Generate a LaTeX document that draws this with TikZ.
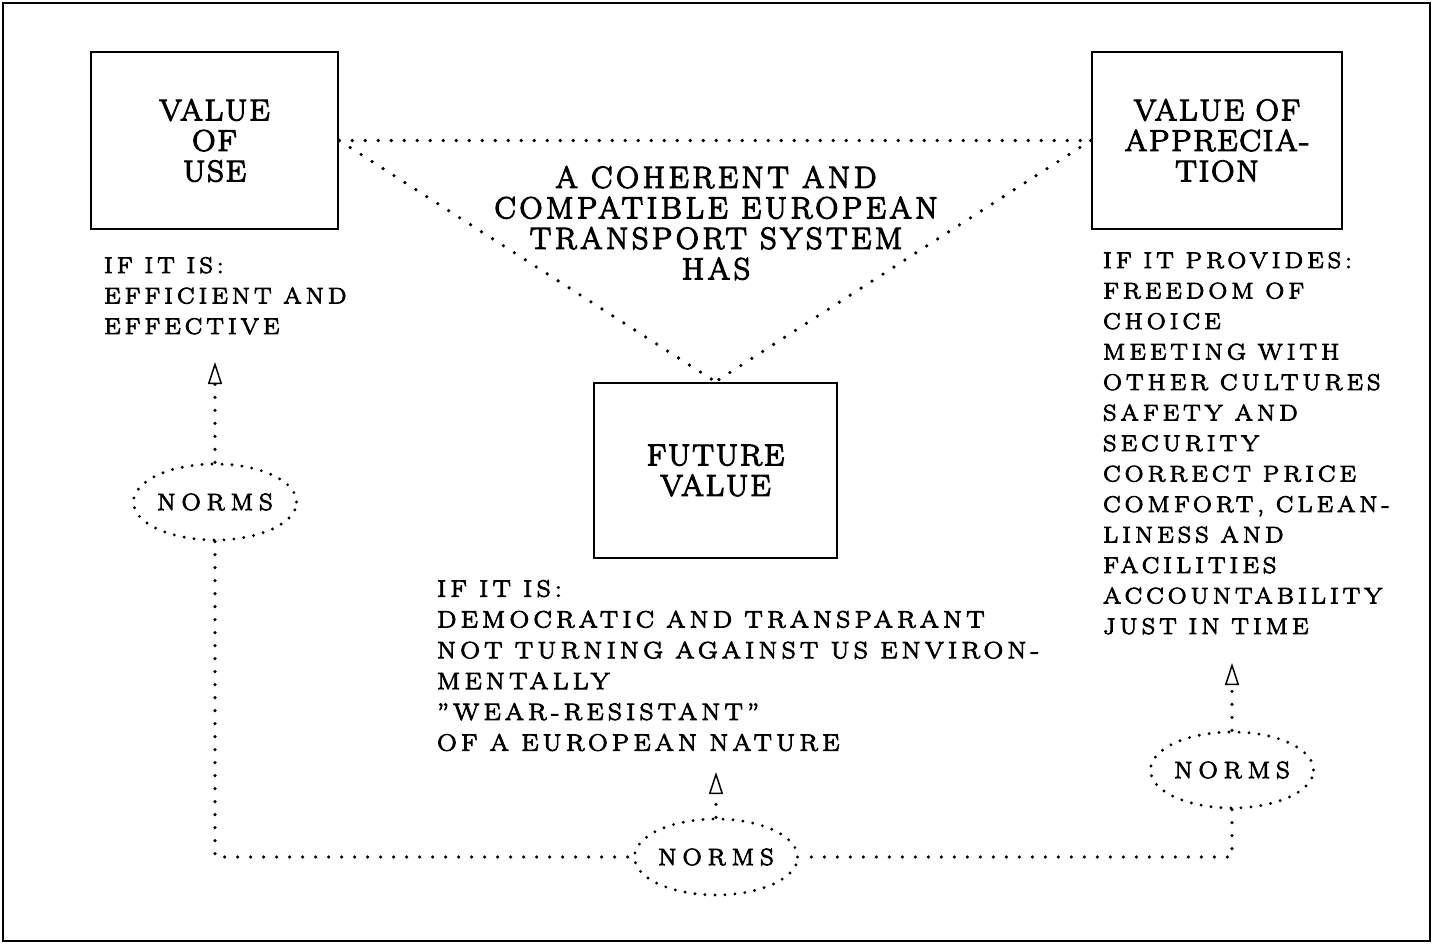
\documentclass[tikz,border=0pt]{standalone}
\usepackage{fontspec}
\usetikzlibrary{shapes.geometric,arrows.meta}
\newfontfamily\lmboxfam{Latin Modern Roman}[LetterSpace=6, FakeStretch=1.08, FakeBold=4]
\newfontfamily\lmcentfam{Latin Modern Roman}[LetterSpace=12, FakeStretch=1.05, FakeBold=4]
\newfontfamily\lmlistfam{Latin Modern Roman}[LetterSpace=19, FakeStretch=1.15, FakeBold=4]
\newfontfamily\lmnormfam{Latin Modern Roman}[LetterSpace=26, FakeStretch=1.12, FakeBold=4]
\newcommand\myboxfont{\lmboxfam\fontsize{30}{30.5}\selectfont}
\newcommand\mycentfont{\lmcentfam\fontsize{30.5}{30.5}\selectfont}
\newcommand\mylistfont{\lmlistfam\fontsize{22.5}{30.5}\selectfont}
\newcommand\mylistbigfont{\lmlistfam\fontsize{23.5}{30.8}\selectfont}
\newcommand\mynormfont{\lmnormfam\fontsize{23.5}{24}\selectfont}
\begin{document}
\begin{tikzpicture}[x=1pt,y=-1pt,
  boxnode/.style={draw, line width=2.5pt, inner sep=0pt, align=center, font=\myboxfont},
  listtext/.style={align=left, inner sep=0pt, font=\mylistfont},
  normell/.style={ellipse, draw, line width=3.2pt, dash pattern=on 0pt off 10pt, line cap=round,
     minimum width=160pt, minimum height=76pt, inner sep=0pt, font=\mynormfont},
  dotline/.style={line width=3.6pt, line cap=round, dash pattern=on 0pt off 13pt},
  upar/.style={dotline, -{Triangle[open,length=22pt,width=14pt,line width=1.5pt]}}]
\useasboundingbox (0,0) rectangle (1434,943);
\draw[line width=2.2pt] (3,3) rectangle (1430,941);
% boxes
\node[boxnode, minimum width=247pt, minimum height=177pt] (b1) at (214.5,140.5) {VALUE\\OF\\USE};
\node[boxnode, minimum width=250pt, minimum height=177pt] (b2) at (1217,140.5) {VALUE OF\\APPRECIA-\\TION};
\node[boxnode, minimum width=243pt, minimum height=175pt] (b3) at (715.5,470.5) {FUTURE\\VALUE};
% central text
\node[align=center, inner sep=0pt, font=\mycentfont] (ct) at (716,223) {A COHERENT AND\\COMPATIBLE EUROPEAN\\TRANSPORT SYSTEM\\HAS};
% lists
\node[listtext, anchor=north west] (l1) at (104,257) {IF IT IS:\\EFFICIENT AND\\EFFECTIVE};
\node[listtext, anchor=north west, font=\mylistbigfont] (l2) at (437,580) {IF IT IS:\\DEMOCRATIC AND TRANSPARANT\\NOT TURNING AGAINST US ENVIRON-\\MENTALLY\\”WEAR-RESISTANT”\\OF A EUROPEAN NATURE};
\node[listtext, anchor=north west] (l3) at (1103,252) {IF IT PROVIDES:\\FREEDOM OF\\CHOICE\\MEETING WITH\\OTHER CULTURES\\SAFETY AND\\SECURITY\\CORRECT PRICE\\COMFORT, CLEAN-\\LINESS AND\\FACILITIES\\ACCOUNTABILITY\\JUST IN TIME};
% norms
\node[normell] (n1) at (215,502) {NORMS};
\node[normell] (n2) at (716,857) {NORMS};
\node[normell] (n3) at (1232,770) {NORMS};
\coordinate (a1) at (215,362);
\coordinate (a2) at (716,772);
\coordinate (a3) at (1232,663);
% connectors
\draw[dotline] (b1.east) -- (b2.west);
\draw[dotline] (b1.east) -- (b3.north);
\draw[dotline] (b2.west) -- (b3.north);
\draw[upar] (n1.north) -- (a1);
\draw[upar] (n2.north) -- (a2);
\draw[upar] (n3.north) -- (a3);
\draw[dotline] (n1.south) |- (n2.west);
\draw[dotline] (n3.south) |- (n2.east);
\end{tikzpicture}
\end{document}
